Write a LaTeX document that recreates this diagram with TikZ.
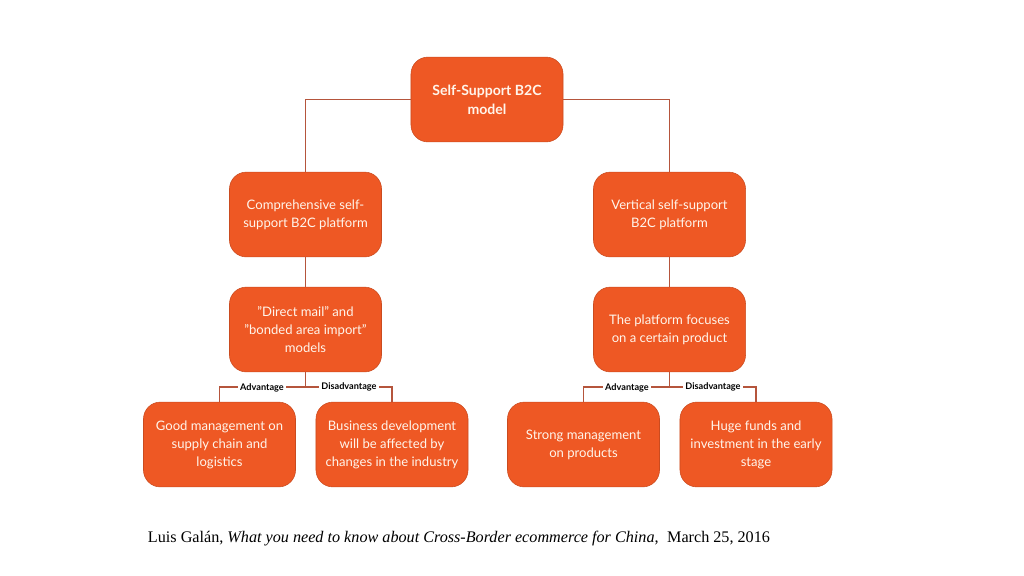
\documentclass[tikz,border=0pt]{standalone}
\usepackage{fontspec}
\setmainfont{Lato}
\newfontfamily\capfont{Liberation Serif}
\usetikzlibrary{positioning}
\definecolor{boxorange}{HTML}{EE5824}
\definecolor{linkbrown}{HTML}{B5553C}
\tikzset{
  box/.style={fill=boxorange,draw=boxorange!85!black,rounded corners=12pt,minimum width=4.25cm,minimum height=2.12cm,
    text=white!92!orange,align=center,font=\fontsize{9.3pt}{12.8pt}\selectfont},
  link/.style={draw=linkbrown,line width=1.2pt},
  tag/.style={fill=white,inner sep=1.5pt,font=\bfseries\fontsize{6.5pt}{8pt}\selectfont}
}
\begin{document}
\begin{tikzpicture}[x=0.025cm,y=-0.025cm]
\useasboundingbox (0,0) rectangle (1024,575);
% boxes
\node[box,minimum width=3.8cm,font=\bfseries\fontsize{10pt}{13.5pt}\selectfont] (root) at (487,99.5) {Self-Support B2C\\model};
\node[box,minimum width=3.8cm] (comp) at (305.5,214.5) {Comprehensive self-\\support B2C platform};
\node[box,minimum width=3.8cm] (vert) at (669.5,214.5) {Vertical self-support\\B2C platform};
\node[box,minimum width=3.8cm] (mail) at (305.5,329.5) {"Direct mail" and\\"bonded area import"\\models};
\node[box,minimum width=3.8cm] (prod) at (669.5,329.5) {The platform focuses\\on a certain product};
\node[box,minimum width=3.8cm] (good) at (219.5,444.5) {Good management on\\supply chain and\\logistics};
\node[box,minimum width=3.8cm] (biz) at (392,444.5) {Business development\\will be affected by\\changes in the industry};
\node[box,minimum width=3.8cm] (strong) at (583.5,444.5) {Strong management\\on products};
\node[box,minimum width=3.8cm] (funds) at (756,444.5) {Huge funds and\\investment in the early\\stage};
% links
\draw[link] (root.west) -| (comp.north);
\draw[link] (root.east) -| (vert.north);
\draw[link] (comp) -- (mail);
\draw[link] (vert) -- (prod);
\draw[link] (mail.south) -- ++(0,15) coordinate (lj);
\draw[link] (good.north) |- (lj) -| (biz.north);
\draw[link] (prod.south) -- ++(0,15) coordinate (rj);
\draw[link] (strong.north) |- (rj) -| (funds.north);
\node[tag] (ladv) at (262,387.5) {Advantage};
\node[tag] (ldis) at (349,387) {Disadvantage};
\node[tag] (radv) at (627,387.5) {Advantage};
\node[tag] (rdis) at (713,387) {Disadvantage};
% caption
\node[anchor=west,font=\capfont\fontsize{11.5pt}{14pt}\selectfont] (cap) at (143,539)
  {Luis Galán, \textit{What you need to know about Cross-Border ecommerce for China},\; March 25, 2016};
\end{tikzpicture}
\end{document}
